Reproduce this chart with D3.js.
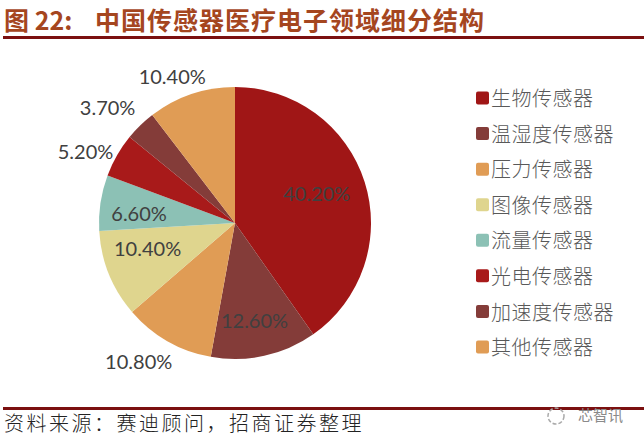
<!DOCTYPE html>
<html>
<head>
<meta charset="utf-8">
<script src="https://cdn.jsdelivr.net/npm/d3@7"></script>
<style>
  html, body { margin: 0; padding: 0; background: #fff; }
  text { font-family: "Noto Sans CJK SC", sans-serif; }
</style>
</head>
<body>
<div id="chart"></div>
<script>
const categories = ["生物传感器", "温湿度传感器", "压力传感器", "图像传感器", "流量传感器", "光电传感器", "加速度传感器", "其他传感器"];
const shares = [40.2, 12.6, 10.8, 10.4, 6.6, 5.2, 3.7, 10.4];
const shareLabels = ["40.20%", "12.60%", "10.80%", "10.40%", "6.60%", "5.20%", "3.70%", "10.40%"];
const colors = ["#a01616", "#843c39", "#e09c55", "#dfd58e", "#8cc1b5", "#a81a1a", "#843c39", "#e09c55"];

const width = 644, height = 440;
const cx = 235, cy = 223, radius = 136;

// label distance from the centre, then a hand nudge slice by slice
const labelRadius = [90, 100, 168, 90, 97, 170, 170, 155];
const labelNudge = [[-4, -2], [-2, 0], [-13, -7], [-4, -8], [0, 5], [-2, 14], [-9, 7], [-13, 1]];

const svg = d3.select("#chart").append("svg")
  .attr("width", width)
  .attr("height", height)
  .style("display", "block");

// header
svg.append("text")
  .attr("x", 4).attr("y", 30)
  .attr("font-size", 25).attr("font-weight", 700)
  .attr("fill", "#a5461f")
  .text("图 22:");

svg.append("text")
  .attr("x", 95).attr("y", 30)
  .attr("font-size", 25).attr("font-weight", 700)
  .attr("letter-spacing", 1)
  .attr("fill", "#a5461f")
  .text("中国传感器医疗电子领域细分结构");

svg.append("rect").attr("x", 3).attr("y", 36).attr("width", 641).attr("height", 3).attr("fill", "#7b1010");

// pie
const pie = d3.pie().value(d => d).sort(null);
const arc = d3.arc().innerRadius(0).outerRadius(radius);
const slices = pie(shares);

const g = svg.append("g").attr("transform", `translate(${cx},${cy})`);

g.selectAll("path")
  .data(slices)
  .join("path")
  .attr("d", arc)
  .attr("fill", (d, i) => colors[i]);

g.selectAll("text")
  .data(slices)
  .join("text")
  .attr("transform", (d, i) => {
    const mid = (d.startAngle + d.endAngle) / 2;
    const r = labelRadius[i];
    const x = Math.sin(mid) * r + labelNudge[i][0];
    const y = -Math.cos(mid) * r + labelNudge[i][1];
    return `translate(${x},${y})`;
  })
  .attr("text-anchor", "middle")
  .attr("dy", "0.35em")
  .attr("font-size", 20)
  .style("font-family", "Lato, sans-serif")
  .attr("fill", "#404040")
  .text((d, i) => shareLabels[i]);

// legend
const legendY = d3.scalePoint().domain(categories).range([98, 347]);

const legend = svg.append("g").selectAll("g")
  .data(categories)
  .join("g")
  .attr("transform", d => `translate(476,${legendY(d)})`);

legend.append("rect")
  .attr("x", 0).attr("y", -6.5)
  .attr("width", 13).attr("height", 13)
  .attr("rx", 2)
  .attr("fill", (d, i) => colors[i]);

legend.append("text")
  .attr("x", 15).attr("y", 1).attr("dy", "0.36em")
  .attr("font-size", 20)
  .attr("font-weight", 300)
  .attr("letter-spacing", 0.5)
  .attr("fill", "#595959")
  .text(d => d);

// footer
svg.append("rect").attr("x", 3).attr("y", 407).attr("width", 641).attr("height", 3).attr("fill", "#7b1010");

svg.append("text")
  .attr("x", 4).attr("y", 431)
  .attr("font-size", 20)
  .attr("font-weight", 300)
  .attr("letter-spacing", 2.5)
  .attr("fill", "#222")
  .text("资料来源：赛迪顾问，招商证券整理");

// watermark
svg.append("circle")
  .attr("cx", 556).attr("cy", 416).attr("r", 8)
  .attr("fill", "none")
  .attr("stroke", "#aaa")
  .attr("stroke-width", 1.5)
  .attr("stroke-dasharray", "4 2");

svg.append("text")
  .attr("x", 578).attr("y", 421)
  .attr("font-size", 15)
  .attr("fill", "#8a8a8a")
  .text("芯智讯");
</script>
</body>
</html>
